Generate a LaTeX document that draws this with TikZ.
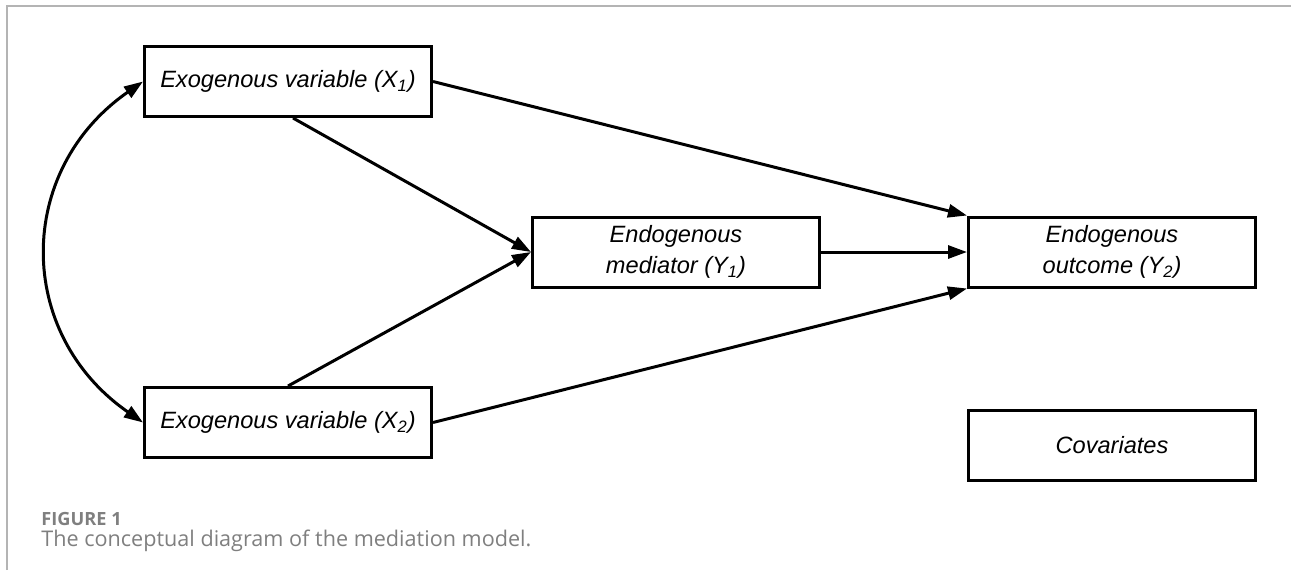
\documentclass[tikz,border=0pt]{standalone}
\usepackage{fontspec}
\setmainfont{Liberation Sans}
\newfontfamily\capfont{Open Sans}
\usepackage{tikz}
\usetikzlibrary{arrows.meta,calc,positioning}
\definecolor{capgray}{HTML}{7F7F7F}
\definecolor{framegray}{HTML}{B4B4B4}
\tikzstyle{varbox}=[rectangle, draw, line width=1.5pt, minimum width=143.5pt, minimum height=35pt, align=center, font=\fontsize{11.8}{15.5}\selectfont\itshape, inner sep=0pt]
\tikzstyle{path}=[line width=1.5pt, -{Triangle[length=9.5pt,width=6.5pt]}]
\tikzstyle{capline}=[anchor=west, inner sep=0pt, text=capgray]

\begin{document}
\begin{tikzpicture}[x=0.5pt,y=-0.5pt]
	\useasboundingbox (0,0) rectangle (1291,570);
	\draw[framegray,line width=0.75pt] (7,570) -- (7,6) -- (1291,6);

	\node[varbox] (exoA) at (288,81.5) {Exogenous variable (X\textsubscript{1})};
	\node[varbox,below=134pt of exoA] (exoB) {Exogenous variable (X\textsubscript{2})};
	\coordinate (mid) at ($(exoA.east)!0.5!(exoB.east)$);
	\node[varbox,right=49pt of mid] (medY) {Endogenous\\mediator (Y\textsubscript{1})};
	\node[varbox,right=73pt of medY] (outY) {Endogenous\\outcome (Y\textsubscript{2})};
	\node[varbox,below=60pt of outY] (covar) {Covariates};

	\draw[path] (exoA.east) -- (outY.north west);
	\draw[path] ([xshift=2.5pt]exoA.south) -- (medY.west);
	\draw[path] (exoB.north) -- (medY.west);
	\draw[path] (exoB.east) -- (outY.south west);
	\draw[path] (medY) -- (outY);
	\draw[path,{Triangle[length=9.5pt,width=6.5pt]}-{Triangle[length=9.5pt,width=6.5pt]}]
		(exoA.west) .. controls +(-128,89) and +(-128,-89) .. (exoB.west);

	% caption
	\node[capline] (figlbl) at (41,519) {\capfont\bfseries\fontsize{9.1}{11}\selectfont FIGURE 1};
	\node[capline] (figcap) at (41,541) {\capfont\fontsize{10.8}{12.5}\selectfont The conceptual diagram of the mediation model.};
\end{tikzpicture}
\end{document}
